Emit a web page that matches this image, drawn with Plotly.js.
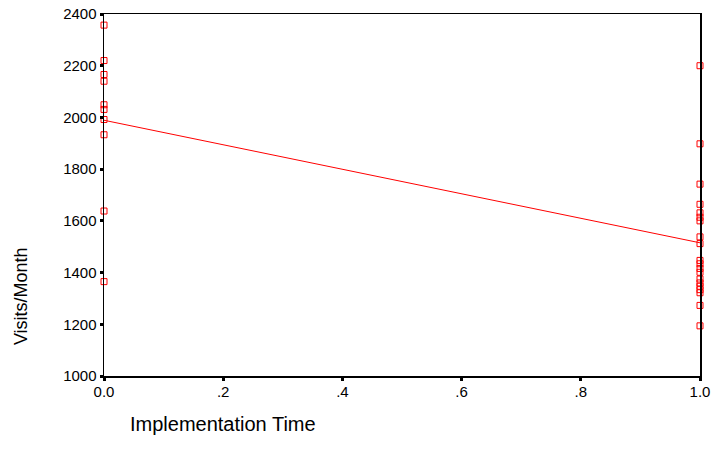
<!DOCTYPE html>
<html>
<head>
<meta charset="utf-8">
<script src="https://cdn.plot.ly/plotly-3.0.1.min.js"></script>
<style>html,body{margin:0;padding:0;background:#fff;}#chart{width:712px;height:466px;}</style>
</head>
<body>
<div id="chart"></div>
<script>
// Implementation Time = 0
var visitsTime0 = [2357, 2220, 2166, 2140, 2049, 2031, 1992, 1933, 1638, 1365];
// Implementation Time = 1
var visitsTime1 = [2200, 1898, 1742, 1664, 1631, 1614, 1600, 1538, 1512, 1447, 1434, 1416, 1401, 1375, 1360, 1347, 1334, 1322, 1273, 1194];
var xTickVals = [0, 0.2, 0.4, 0.6, 0.8, 1.0];
var xTickText = ["0.0", ".2", ".4", ".6", ".8", "1.0"];
var yTickVals = [1000, 1200, 1400, 1600, 1800, 2000, 2200, 2400];

var xs = [], ys = [];
visitsTime0.forEach(function(v){ xs.push(0); ys.push(v); });
visitsTime1.forEach(function(v){ xs.push(1); ys.push(v); });

// least squares fit
var n = xs.length, mx = 0, my = 0;
for (var i = 0; i < n; i++) { mx += xs[i]; my += ys[i]; }
mx /= n; my /= n;
var sxy = 0, sxx = 0;
for (var i = 0; i < n; i++) { sxy += (xs[i]-mx)*(ys[i]-my); sxx += (xs[i]-mx)*(xs[i]-mx); }
var slope = sxy / sxx, intercept = my - slope * mx;

var traces = [
  {x: [0, 1], y: [intercept, intercept + slope], mode: 'lines', type: 'scatter',
   line: {color: '#ff0000', width: 1}, hoverinfo: 'skip', cliponaxis: false},
  {x: xs, y: ys, mode: 'markers', type: 'scatter', cliponaxis: false,
   marker: {symbol: 'square-open', size: 6, color: '#ff0000', line: {width: 1, color: '#ff0000'}}}
];

var layout = {
  width: 712, height: 466,
  margin: {l: 104, r: 12, t: 14, b: 90},
  paper_bgcolor: '#ffffff', plot_bgcolor: '#ffffff',
  showlegend: false,
  font: {family: 'Liberation Sans, Arial, sans-serif', size: 15, color: '#000'},
  xaxis: {range: [0, 1], tickvals: xTickVals, ticktext: xTickText, showgrid: false, zeroline: false,
          showline: true, linecolor: '#000', linewidth: 1.5, mirror: true,
          ticks: 'outside', ticklen: 3, tickwidth: 3, tickcolor: '#000',
          ticklabelstandoff: -2, tickfont: {size: 15}},
  yaxis: {range: [1000, 2400], tickvals: yTickVals, showgrid: false, zeroline: false,
          showline: true, linecolor: '#000', linewidth: 1.5, mirror: true,
          ticks: 'outside', ticklen: 3, tickwidth: 3, tickcolor: '#000',
          tickfont: {size: 15}},
  annotations: [
    {text: 'Visits/Month', xref: 'paper', yref: 'paper', x: -0.138, y: 0.22, textangle: -90,
     showarrow: false, font: {size: 18}, xanchor: 'center', yanchor: 'middle'},
    {text: 'Implementation Time', xref: 'paper', yref: 'paper', x: 0.04, y: -0.097,
     showarrow: false, font: {size: 20}, xanchor: 'left', yanchor: 'top'}
  ]
};

Plotly.newPlot('chart', traces, layout, {displayModeBar: false, staticPlot: true});
</script>
</body>
</html>
